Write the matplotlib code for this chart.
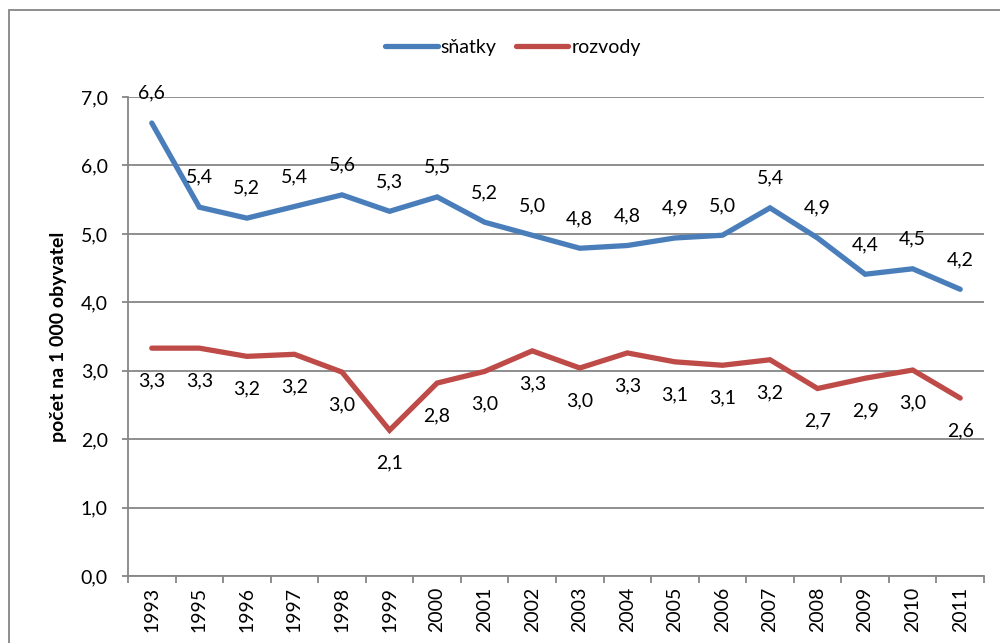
import matplotlib.pyplot as plt
from matplotlib.patches import Rectangle
from matplotlib.lines import Line2D

# data (per 1 000 inhabitants)
years = ['1993', '1995', '1996', '1997', '1998', '1999', '2000', '2001', '2002',
         '2003', '2004', '2005', '2006', '2007', '2008', '2009', '2010', '2011']
snatky = [6.62, 5.39, 5.23, 5.40, 5.57, 5.33, 5.54, 5.17, 4.98,
          4.79, 4.83, 4.94, 4.98, 5.38, 4.94, 4.41, 4.49, 4.19]
rozvody = [3.33, 3.33, 3.21, 3.24, 2.98, 2.13, 2.82, 2.99, 3.29,
           3.04, 3.26, 3.13, 3.08, 3.16, 2.74, 2.89, 3.01, 2.60]
yticks = [0, 1, 2, 3, 4, 5, 6, 7]

blue = '#4A7EBB'
red = '#BE4B48'
gray = '#868686'

plt.rcParams['font.family'] = ['Lato', 'DejaVu Sans']


def fmt(v):
    return f'{v:.1f}'.replace('.', ',')


fig = plt.figure(figsize=(10, 6.43), dpi=100)
ax = fig.add_axes([0.128, 0.1042, 0.856, 0.7449])

x = list(range(len(years)))
ax.plot(x, snatky, color=blue, lw=3.8, solid_capstyle='round', solid_joinstyle='miter', zorder=3)
ax.plot(x, rozvody, color=red, lw=3.8, solid_capstyle='round', solid_joinstyle='miter', zorder=3)

# data labels: above for sňatky, below for rozvody
for xi, v in zip(x, snatky):
    ax.annotate(fmt(v), (xi, v), xytext=(0, 21.5), textcoords='offset points',
                ha='center', va='center', fontsize=14, color='black')
for xi, v in zip(x, rozvody):
    ax.annotate(fmt(v), (xi, v), xytext=(0, -23.5), textcoords='offset points',
                ha='center', va='center', fontsize=14, color='black')

ax.set_xlim(-0.5, len(years) - 0.5)
ax.set_ylim(0, 7)
ax.set_yticks(yticks)
ax.set_yticklabels([fmt(t) for t in yticks], fontsize=14)
ax.set_xticks(x)
ax.set_xticklabels(years, rotation=90, fontsize=14)
ax.set_xticks([i - 0.5 for i in range(len(years) + 1)], minor=True)
ax.tick_params(axis='x', which='major', length=0, pad=8)
ax.tick_params(axis='x', which='minor', length=5, width=1.3, color=gray)
ax.tick_params(axis='y', length=4.5, width=1.3, color=gray, pad=10)

ax.yaxis.grid(True, color=gray, lw=1.3)
ax.set_axisbelow(True)
for s in ['top', 'right']:
    ax.spines[s].set_visible(False)
for s in ['left', 'bottom']:
    ax.spines[s].set_color(gray)
    ax.spines[s].set_linewidth(1.3)

ax.set_ylabel('počet na 1 000 obyvatel', fontsize=14, fontweight='bold')
ax.yaxis.set_label_coords(-0.071, 0.5)

# legend at the top
handles = [Line2D([], [], color=blue, lw=3.8, solid_capstyle='round'),
           Line2D([], [], color=red, lw=3.8, solid_capstyle='round')]
fig.legend(handles, ['sňatky', 'rozvody'], loc='center', bbox_to_anchor=(0.513, 1 - 47 / 643),
           ncol=2, frameon=False, fontsize=14, handlelength=2.7, handletextpad=0.15,
           columnspacing=1.0)

# outer chart border
fig.patches.append(Rectangle((9 / 1000, -0.05), 1.2, 1 - 10 / 643 + 0.05,
                             transform=fig.transFigure, fill=False,
                             edgecolor=gray, lw=1.3))

fig.savefig('out.png', dpi=100)
